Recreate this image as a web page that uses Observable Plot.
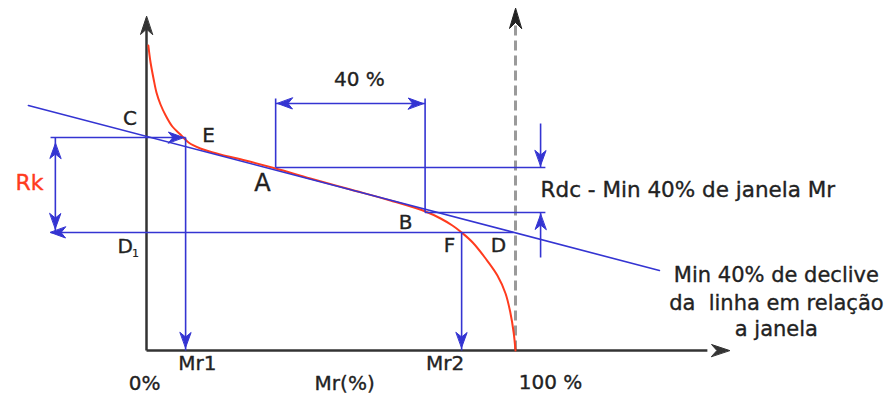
<!DOCTYPE html>
<html>
<head>
<meta charset="utf-8">
<script src="https://cdn.jsdelivr.net/npm/d3@7"></script>
<script src="https://cdn.jsdelivr.net/npm/@observablehq/plot@0.6"></script>
<style>
  body { margin: 0; background: #fff; }
  #chart svg { display: block; background: #fff; }
</style>
</head>
<body>
<div id="chart"></div>
<script>
// Bearing-ratio (Abbott–Firestone) curve: material ratio Mr (%) vs. profile height
const curveMr = [0.5, 1.1, 1.9, 2.7, 3.8, 5.2, 7.0, 9.2, 11.4, 14.6, 20, 26.8, 35, 44.4, 55.3, 66.1, 75.6, 79.7, 82.9, 85.4, 88.4, 91.9, 95.1, 97.3, 98.6, 99.5, 100];
const curveH  = [305, 288, 272, 258, 246, 235, 224, 216, 208, 202, 196, 190, 182, 172, 161, 150, 139, 132, 125, 118, 108, 92, 75, 57, 38, 18, 0];

// Construction values
const Mr1 = 10.6, Mr2 = 85.4;          // material ratios at E and F
const winA = 35, winB = 75.5;          // 40 % window (A .. B)
const hC = 213, hD = 118;              // heights of C and D1 (Rk band)
const hA = 183, hB = 138;              // heights at A and B (Rdc band)
const secantMr = [-32, 139];           // equivalent straight line
const secantH  = [245, 80];
const rkMr = -24.7, rdcMr = 106.8;     // positions of the Rk and Rdc dimension arrows
const leftMr = -26, rightMr = 108.1, dMr = 99.4;
const bracketH = 252, bracketArrowH = 247;

// Labels
const pointLabels = ["C", "E", "B", "F", "D", "D"];
const pointMr     = [-4.5, 16.8, 70.2, 82.1, 95.4, -5.8];
const pointH      = [232, 215, 128, 105, 105, 104];
const axisLabels  = ["Mr1", "Mr2", "0%", "Mr(%)", "100 %", "40 %"];
const axisMr      = [13.8, 80.9, -0.5, 53.7, 109.5, 57.7];
const axisH       = [-13, -13, -33, -33, -32, 271];
const noteLines   = ["Min 40% de declive", "da\u00a0 linha em relação", "a janela"];
const noteH       = [75, 47, 21];

const blue = "#3434d2", red = "#ff3b1e", axisColor = "#333", dashColor = "#9a9a9a";
const ink = "#222";
const font = "DejaVu Sans";
const textStyle = {fontFamily: font, fill: ink, stroke: ink, strokeWidth: 0.35};

const curve = curveMr.map((x, i) => ({x, y: curveH[i]}));
const secant = secantMr.map((x, i) => ({x, y: secantH[i]}));

const guides = [
  {x1: leftMr, y1: hC, x2: Mr1, y2: hC},        // C → E
  {x1: Mr1, y1: hC, x2: Mr1, y2: 0},            // E → Mr1
  {x1: rkMr, y1: hC, x2: rkMr, y2: hD},         // Rk
  {x1: leftMr, y1: hD, x2: dMr, y2: hD},        // D1 … D
  {x1: Mr2, y1: hD, x2: Mr2, y2: 0},            // F → Mr2
  {x1: winA, y1: hA, x2: winA, y2: bracketH},   // window, left
  {x1: winB, y1: hB, x2: winB, y2: bracketH},   // window, right
  {x1: winA, y1: bracketArrowH, x2: winB, y2: bracketArrowH},
  {x1: winA, y1: hA, x2: rightMr, y2: hA},      // Rdc top
  {x1: winB, y1: hB, x2: rightMr, y2: hB},      // Rdc bottom
  {x1: rdcMr, y1: 227, x2: rdcMr, y2: hA},
  {x1: rdcMr, y1: 93, x2: rdcMr, y2: hB}
];

const blueHeads = [
  {x: Mr1 - 0.6, y: hC, r: 90},
  {x: Mr1, y: 3, r: 180},
  {x: rkMr, y: hC - 6, r: 0},
  {x: rkMr, y: hD + 4, r: 180},
  {x: leftMr, y: hD, r: -90},
  {x: Mr2, y: 3, r: 180},
  {x: winA + 0.5, y: bracketArrowH, r: -90},
  {x: winB - 0.5, y: bracketArrowH, r: 90},
  {x: rdcMr, y: hA + 2, r: 180},
  {x: rdcMr, y: hB - 2, r: 0}
];

const axes = [
  {x1: 0, y1: 0, x2: 0, y2: 322},
  {x1: 0, y1: 0, x2: 152, y2: 0}
];
const axisHeads = [
  {x: 0, y: 334, r: 0},
  {x: 158, y: 0, r: 90}
];
const dashHeads = [{x: 100, y: 342, r: 0}];

// Dart-shaped arrowhead for Plot.vector (tip at the anchor point)
const dart = (w) => ({
  draw(ctx, l) {
    ctx.moveTo(0, -l);
    ctx.lineTo(-w, 0);
    ctx.lineTo(0, -l * 0.3);
    ctx.lineTo(w, 0);
    ctx.closePath();
  }
});

const head = (data, color, len, w) => Plot.vector(data, {
  x: "x", y: "y", rotate: "r", length: len, anchor: "end",
  shape: dart(w), fill: color, stroke: color, strokeWidth: 1
});

const chart = Plot.plot({
  width: 893,
  height: 398,
  margin: 0,
  x: {domain: [-146 / 3.69, (893 - 146) / 3.69], axis: null},
  y: {domain: [-48, 350], axis: null},
  marks: [
    Plot.link([{x1: 100, y1: 0, x2: 100, y2: 330}], {x1: "x1", y1: "y1", x2: "x2", y2: "y2",
      stroke: dashColor, strokeWidth: 3, strokeDasharray: "10,5"}),
    Plot.link(axes, {x1: "x1", y1: "y1", x2: "x2", y2: "y2", stroke: axisColor, strokeWidth: 2.5}),
    Plot.line(curve, {x: "x", y: "y", stroke: red, strokeWidth: 2, curve: "catmull-rom"}),
    Plot.line(secant, {x: "x", y: "y", stroke: blue, strokeWidth: 1.6}),
    Plot.link(guides, {x1: "x1", y1: "y1", x2: "x2", y2: "y2", stroke: blue, strokeWidth: 1.6}),
    head(blueHeads, blue, 15, 5.5),
    head(axisHeads, axisColor, 18, 6),
    head(dashHeads, "#222", 20, 6),
    Plot.text(pointLabels, {x: (d, i) => pointMr[i], y: (d, i) => pointH[i], text: d => d,
      fontSize: 20, ...textStyle}),
    Plot.text(["1"], {x: [-3.0], y: [97], text: d => d, fontSize: 11, ...textStyle, strokeWidth: 0.2}),
    Plot.text(["A"], {x: [31.4], y: [167], text: d => d, fontSize: 24, ...textStyle}),
    Plot.text(["Rk"], {x: [-31.7], y: [168], text: d => d, fontFamily: font, fontSize: 22,
      fill: red, stroke: red, strokeWidth: 0.35}),
    Plot.text(axisLabels, {x: (d, i) => axisMr[i], y: (d, i) => axisH[i], text: d => d,
      fontSize: 20, ...textStyle}),
    Plot.text(["Rdc - Min 40% de janela Mr"], {x: [rdcMr], y: [160], text: d => d, textAnchor: "start",
      fontSize: 21.5, ...textStyle}),
    Plot.text(noteLines, {x: noteLines.map(() => 170.7), y: noteH, text: d => d,
      fontSize: 21, ...textStyle})
  ]
});

document.getElementById("chart").append(chart);
</script>
</body>
</html>
